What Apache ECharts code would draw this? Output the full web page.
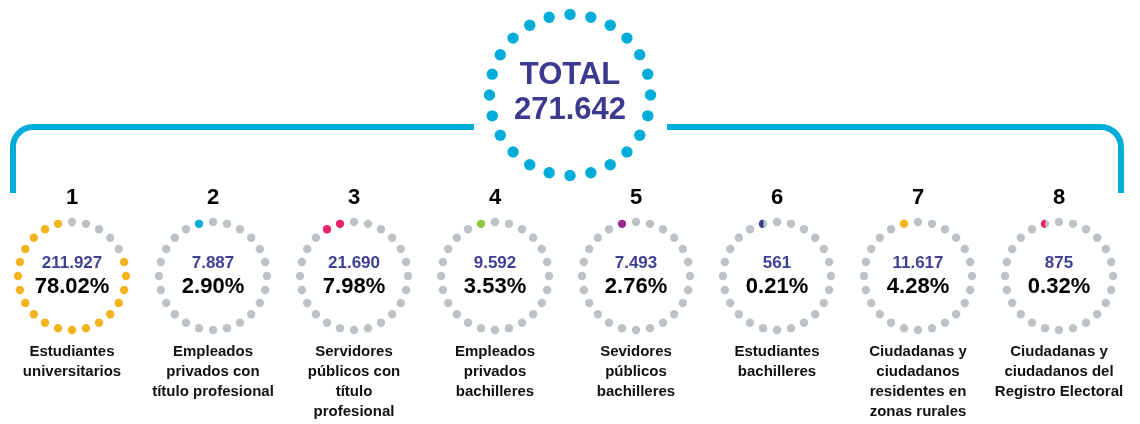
<!DOCTYPE html>
<html>
<head>
<meta charset="utf-8">
<style>
  html, body { margin: 0; padding: 0; background: #fff; }
  #main { width: 1140px; height: 424px; }
</style>
<script src="https://cdn.jsdelivr.net/npm/echarts@6/dist/echarts.min.js"></script>
</head>
<body>
<div id="main"></div>
<script>
// datos
var numbers = ['1', '2', '3', '4', '5', '6', '7', '8'];
var categories = [
  'Estudiantes\nuniversitarios',
  'Empleados\nprivados con\ntítulo profesional',
  'Servidores\npúblicos con\ntítulo\nprofesional',
  'Empleados\nprivados\nbachilleres',
  'Sevidores\npúblicos\nbachilleres',
  'Estudiantes\nbachilleres',
  'Ciudadanas y\nciudadanos\nresidentes en\nzonas rurales',
  'Ciudadanas y\nciudadanos del\nRegistro Electoral'
];
var values = [211927, 7887, 21690, 9592, 7493, 561, 11617, 875];
var percents = [78.02, 2.90, 7.98, 3.53, 2.76, 0.21, 4.28, 0.32];
var total = 271642;
var colors = ['#f2b41e', '#00acd9', '#e6246c', '#8cc63f', '#9b2c8d', '#3b3c8e', '#f4b31a', '#e6246c'];

var DOTS = 24;
var GRAY = '#bcc2c6';
var CYAN = '#00acd9';
var FONT = '"Liberation Sans", Arial, sans-serif';

function fmt(v) {
  return String(v).replace(/\B(?=(\d{3})+(?!\d))/g, '.');
}

// segmento circular del lado izquierdo del punto (punto lleno a medias)
function partialDot(x, y, r, color) {
  var pts = [];
  var t0 = Math.acos(0.1); // cuerda vertical un poco a la izquierda del centro
  for (var s = 0; s <= 16; s++) {
    var t = t0 + (2 * Math.PI - 2 * t0) * s / 16;
    pts.push([x + r * Math.cos(t), y + r * Math.sin(t)]);
  }
  return { type: 'polygon', shape: { points: pts }, style: { fill: color } };
}

// anillo de puntos; se llena en sentido antihorario desde el punto a la izquierda del tope
function dotRing(cx, cy, R, r, pct, color) {
  var n = pct * DOTS / 100;
  var full = Math.round(n);
  var els = [];
  for (var k = 0; k < DOTS; k++) {
    var a = k * 2 * Math.PI / DOTS;
    var x = cx + R * Math.sin(a);
    var y = cy - R * Math.cos(a);
    var rank = DOTS - 1 - k;
    var fill = rank < full ? color : GRAY;
    els.push({ type: 'circle', shape: { cx: x, cy: y, r: r }, style: { fill: fill } });
    if (full === 0 && n > 0 && rank === 0) {
      els.push(partialDot(x, y, r, color));
    }
  }
  return els;
}

function renderSmall(params, api) {
  var i = params.dataIndex;
  var c = api.coord([api.value(0), 0]);
  var cx = c[0], cy = c[1];
  var els = dotRing(cx, cy, 54, 4.2, api.value(2), colors[i]);
  els.push({ type: 'text', x: cx, y: cy - 78, style: { text: numbers[i], font: 'bold 22px ' + FONT, fill: '#000', align: 'center', verticalAlign: 'middle' } });
  els.push({ type: 'text', x: cx, y: cy - 13, style: { text: fmt(values[i]), font: 'bold 17px ' + FONT, fill: '#3f3f94', align: 'center', verticalAlign: 'middle' } });
  els.push({ type: 'text', x: cx, y: cy + 11, style: { text: percents[i].toFixed(2) + '%', font: 'bold 22px ' + FONT, fill: '#000', align: 'center', verticalAlign: 'middle' } });
  els.push({ type: 'text', x: cx, y: cy + 66, style: { text: categories[i], font: 'bold 15px ' + FONT, lineHeight: 20, fill: '#111', align: 'center', verticalAlign: 'top' } });
  return { type: 'group', children: els };
}

function renderTotal(params, api) {
  var c = api.coord([api.value(0), 0]);
  var cx = c[0], cy = c[1];
  var els = dotRing(cx, cy, 80.5, 5.7, 100, CYAN);
  els.push({ type: 'text', x: cx, y: cy - 20, style: { text: 'TOTAL', font: 'bold 31px ' + FONT, fill: '#3b3a8f', align: 'center', verticalAlign: 'middle' } });
  els.push({ type: 'text', x: cx, y: cy + 15, style: { text: fmt(total), font: 'bold 31px ' + FONT, fill: '#3b3a8f', align: 'center', verticalAlign: 'middle' } });
  return { type: 'group', children: els };
}

// llave superior
var lineStyle = { stroke: CYAN, lineWidth: 6, fill: null };
var bracket = [
  { type: 'line', shape: { x1: 13, y1: 193, x2: 13, y2: 147 }, style: lineStyle },
  { type: 'arc', shape: { cx: 33, cy: 147, r: 20, startAngle: Math.PI, endAngle: Math.PI * 1.5 }, style: lineStyle },
  { type: 'line', shape: { x1: 33, y1: 127, x2: 474, y2: 127 }, style: lineStyle },
  { type: 'line', shape: { x1: 667, y1: 127, x2: 1101, y2: 127 }, style: lineStyle },
  { type: 'arc', shape: { cx: 1101, cy: 147, r: 20, startAngle: Math.PI * 1.5, endAngle: Math.PI * 2 }, style: lineStyle },
  { type: 'line', shape: { x1: 1121, y1: 147, x2: 1121, y2: 193 }, style: lineStyle }
];

var chart = echarts.init(document.getElementById('main'));
chart.setOption({
  animation: false,
  grid: [
    { left: 1.5, width: 1128, top: 0, height: 276 },
    { left: 0, width: 1140, top: 0, height: 95 }
  ],
  xAxis: [
    { type: 'category', gridIndex: 0, data: numbers, show: false },
    { type: 'category', gridIndex: 1, data: ['TOTAL'], show: false }
  ],
  yAxis: [
    { type: 'value', gridIndex: 0, min: 0, max: 1, show: false },
    { type: 'value', gridIndex: 1, min: 0, max: 1, show: false }
  ],
  graphic: bracket,
  series: [
    {
      type: 'custom',
      xAxisIndex: 0,
      yAxisIndex: 0,
      clip: false,
      renderItem: renderSmall,
      data: percents.map(function (p, i) { return [i, 0, p]; })
    },
    {
      type: 'custom',
      xAxisIndex: 1,
      yAxisIndex: 1,
      clip: false,
      renderItem: renderTotal,
      data: [[0, 0, total]]
    }
  ]
});
</script>
</body>
</html>
